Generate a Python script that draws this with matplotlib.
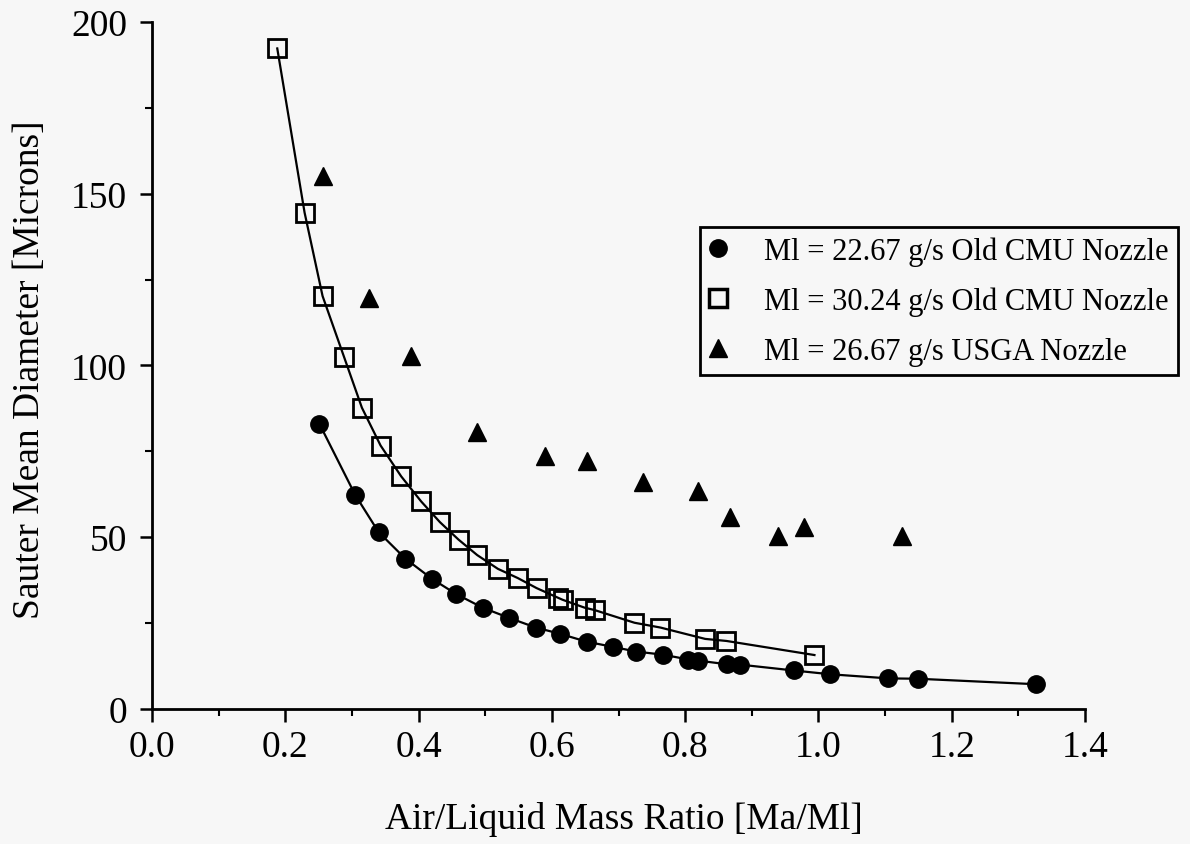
import matplotlib.pyplot as plt
from matplotlib.lines import Line2D
from matplotlib.ticker import MultipleLocator

plt.rcParams['font.family'] = ['Liberation Serif', 'DejaVu Serif']

# Ml = 22.67 g/s, old CMU nozzle
ratio_cmu22 = [0.251, 0.305, 0.340, 0.380, 0.420, 0.456, 0.496, 0.536, 0.576, 0.612,
               0.652, 0.691, 0.727, 0.767, 0.805, 0.819, 0.863, 0.883, 0.963, 1.018,
               1.105, 1.149, 1.327]
smd_cmu22 = [83.1, 62.3, 51.5, 43.8, 37.9, 33.5, 29.5, 26.5, 23.7, 21.9,
             19.6, 18.1, 16.7, 15.8, 14.4, 14.1, 13.0, 12.9, 11.2, 10.1,
             8.9, 8.8, 7.2]

# Ml = 30.24 g/s, old CMU nozzle
ratio_cmu30 = [0.188, 0.229, 0.256, 0.288, 0.315, 0.343, 0.374, 0.404, 0.432, 0.460,
               0.488, 0.519, 0.549, 0.577, 0.609, 0.616, 0.649, 0.664, 0.724, 0.763,
               0.830, 0.862, 0.994]
smd_cmu30 = [192.3, 144.5, 120.2, 102.6, 87.7, 76.7, 67.7, 60.4, 54.4, 49.3,
             44.8, 40.8, 38.1, 35.2, 32.4, 31.8, 29.5, 28.8, 25.1, 23.7,
             20.4, 19.8, 15.7]

# Ml = 26.67 g/s, USGA nozzle
ratio_usga = [0.256, 0.325, 0.389, 0.488, 0.589, 0.652, 0.737, 0.819, 0.867, 0.939,
              0.979, 1.125]
smd_usga = [155.1, 119.5, 102.8, 80.7, 73.7, 72.2, 66.2, 63.6, 56.0, 50.4,
            53.0, 50.4]

labels = ['Ml = 22.67 g/s Old CMU Nozzle',
          'Ml = 30.24 g/s Old CMU Nozzle',
          'Ml = 26.67 g/s USGA Nozzle']

bg = '#f7f7f7'
fig = plt.figure(figsize=(11.9, 8.45), dpi=100, facecolor=bg)
ax = fig.add_axes([0.1277, 0.1598, 0.7841, 0.8130])
ax.set_facecolor(bg)

# fitted curves
ax.plot(ratio_cmu22, smd_cmu22, '-', color='black', lw=1.6, zorder=2)
ax.plot(ratio_cmu30, smd_cmu30, '-', color='black', lw=1.6, zorder=2)

ax.plot(ratio_cmu22, smd_cmu22, 'o', ms=12.5, color='black', ls='none', zorder=3)
ax.plot(ratio_cmu30, smd_cmu30, 's', ms=12.5, mfc='none', mec='black', mew=2,
        ls='none', zorder=3)
ax.plot(ratio_usga, smd_usga, '^', ms=13.5, color='black', ls='none', zorder=3)

ax.set_xlim(0, 1.4)
ax.set_ylim(0, 200)
ax.xaxis.set_major_locator(MultipleLocator(0.2))
ax.xaxis.set_minor_locator(MultipleLocator(0.1))
ax.yaxis.set_major_locator(MultipleLocator(50))
ax.yaxis.set_minor_locator(MultipleLocator(25))
ax.xaxis.set_major_formatter(plt.FormatStrFormatter('%.1f'))

for side in ['top', 'right']:
    ax.spines[side].set_visible(False)
for side in ['left', 'bottom']:
    ax.spines[side].set_linewidth(2)

ax.tick_params(which='major', direction='out', length=9, width=1.8,
               labelsize=27, pad=6)
ax.tick_params(which='minor', direction='out', length=5, width=1.5)
ax.tick_params(axis='y', which='major', pad=9)

fig.text(30 / 1190, 0.562, 'Sauter Mean Diameter [Microns]', rotation=90,
         ha='center', va='center', fontsize=27)
fig.text(624 / 1190, 0.0296, 'Air/Liquid Mass Ratio [Ma/Ml]',
         ha='center', va='center', fontsize=27)

handles = [
    Line2D([], [], marker='o', ms=12.5, color='black', ls='none'),
    Line2D([], [], marker='s', ms=12.5, mfc='none', mec='black', mew=2.5, ls='none'),
    Line2D([], [], marker='^', ms=13, color='black', ls='none'),
]
leg = fig.legend(handles, labels, loc='upper left',
                 bbox_to_anchor=(700 / 1190, (845 - 228) / 845),
                 fontsize=22, frameon=True, fancybox=False, borderpad=0.3,
                 handlelength=0.6, handletextpad=1.2, labelspacing=0.68,
                 borderaxespad=0)
leg.get_frame().set_edgecolor('black')
leg.get_frame().set_linewidth(2)
leg.get_frame().set_facecolor(bg)
leg.get_frame().set_alpha(1)

fig.savefig('out.png', dpi=100, facecolor=bg)
